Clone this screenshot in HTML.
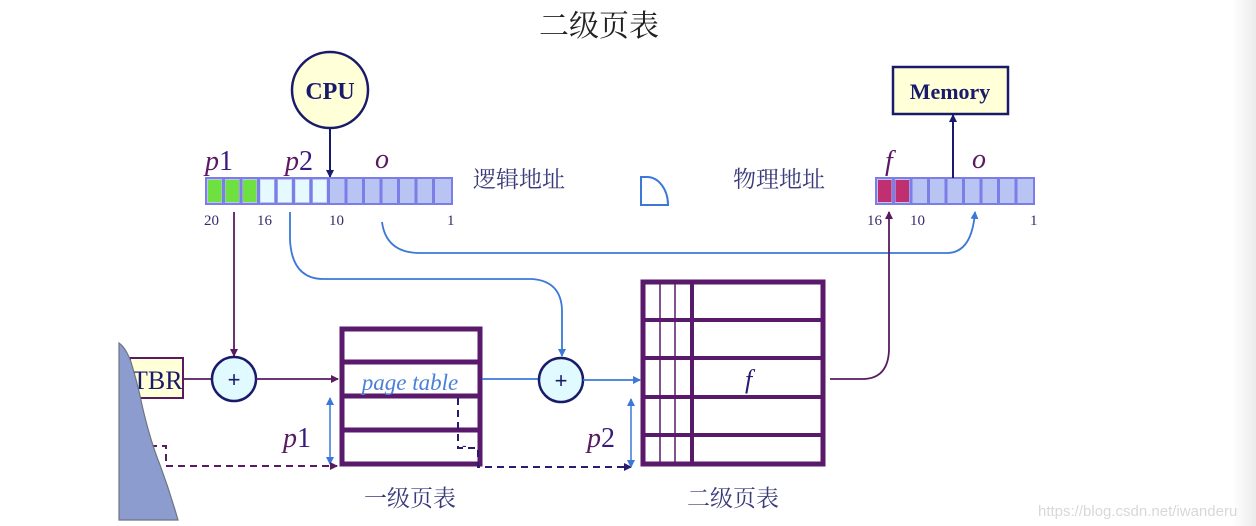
<!DOCTYPE html>
<html><head><meta charset="utf-8"><style>
html,body{margin:0;padding:0;background:#fff;}
svg{display:block;}
.cj{font-family:"Liberation Serif","Noto Serif CJK SC",serif;}
.it{font-family:"Liberation Serif",serif;font-style:italic;}
</style></head><body>
<svg width="1256" height="526" viewBox="0 0 1256 526" xmlns="http://www.w3.org/2000/svg">
<defs>
<marker id="ap" markerWidth="8" markerHeight="8" refX="7" refY="4" orient="auto" markerUnits="userSpaceOnUse"><path d="M0,0 L8,4 L0,8 z" fill="#5a1a60"/></marker>
<marker id="ab" markerWidth="8" markerHeight="8" refX="7" refY="4" orient="auto" markerUnits="userSpaceOnUse"><path d="M0,0 L8,4 L0,8 z" fill="#3b78d8"/></marker>
<marker id="an" markerWidth="8" markerHeight="8" refX="7" refY="4" orient="auto" markerUnits="userSpaceOnUse"><path d="M0,0 L8,4 L0,8 z" fill="#1a1a6b"/></marker>
<marker id="ad" markerWidth="8" markerHeight="8" refX="7" refY="4" orient="auto" markerUnits="userSpaceOnUse"><path d="M0,0 L8,4 L0,8 z" fill="#2a1a70"/></marker>
<marker id="abs" markerWidth="8" markerHeight="8" refX="7" refY="4" orient="auto-start-reverse" markerUnits="userSpaceOnUse"><path d="M0,0 L8,4 L0,8 z" fill="#3b78d8"/></marker>
<linearGradient id="edge" x1="0" x2="1" y1="0" y2="0"><stop offset="0" stop-color="#fff"/><stop offset="1" stop-color="#ececec"/></linearGradient>
</defs>
<rect x="1232" y="0" width="24" height="526" fill="url(#edge)"/>
<text x="599" y="36" font-size="30" text-anchor="middle" class="cj" fill="#222">二级页表</text>

<!-- CPU -->
<circle cx="330" cy="90" r="38" fill="#ffffd8" stroke="#1a1a6b" stroke-width="2.5"/>
<text x="330" y="99" font-size="24" font-weight="bold" text-anchor="middle" font-family="Liberation Serif,serif" fill="#1a1a6b">CPU</text>
<line x1="330" y1="128" x2="330" y2="177" stroke="#1a1a6b" stroke-width="2" marker-end="url(#an)"/>

<text x="205" y="170" font-size="28" class="it" fill="#5a1a60">p<tspan fill="#3a1a80" font-style="normal">1</tspan></text>
<text x="285" y="170" font-size="28" class="it" fill="#5a1a60">p<tspan fill="#3a1a80" font-style="normal">2</tspan></text>
<text x="375" y="168" font-size="28" class="it" fill="#5a1a60">o</text>

<rect x="206" y="178" width="246" height="26" fill="#b8c4f2" stroke="#7d7de8" stroke-width="2"/>
<rect x="208" y="180" width="13.5" height="22" fill="#6ee040"/>
<rect x="225.5" y="180" width="13.5" height="22" fill="#6ee040"/>
<rect x="243" y="180" width="13.5" height="22" fill="#6ee040"/>
<rect x="260.5" y="180" width="13.5" height="22" fill="#e4faff"/>
<rect x="278" y="180" width="13.5" height="22" fill="#e4faff"/>
<rect x="295.5" y="180" width="13.5" height="22" fill="#e4faff"/>
<rect x="313" y="180" width="13.5" height="22" fill="#e4faff"/>
<g stroke="#7d7de8" stroke-width="3">
<line x1="223.5" y1="179" x2="223.5" y2="203"/><line x1="241" y1="179" x2="241" y2="203"/><line x1="258.5" y1="179" x2="258.5" y2="203"/><line x1="276" y1="179" x2="276" y2="203"/><line x1="293.5" y1="179" x2="293.5" y2="203"/><line x1="311" y1="179" x2="311" y2="203"/><line x1="328.5" y1="179" x2="328.5" y2="203"/><line x1="346" y1="179" x2="346" y2="203"/><line x1="363.5" y1="179" x2="363.5" y2="203"/><line x1="381" y1="179" x2="381" y2="203"/><line x1="398.5" y1="179" x2="398.5" y2="203"/><line x1="416" y1="179" x2="416" y2="203"/><line x1="433.5" y1="179" x2="433.5" y2="203"/>
</g>
<g font-size="15" font-family="Liberation Serif,serif" fill="#3a2a6a">
<text x="204" y="225">20</text><text x="257" y="225">16</text><text x="329" y="225">10</text><text x="447" y="225">1</text>
<text x="867" y="225">16</text><text x="910" y="225">10</text><text x="1030" y="225">1</text>
</g>
<text x="473" y="187" font-size="23" class="cj" fill="#3a3a7a">逻辑地址</text>
<text x="733" y="187" font-size="23" class="cj" fill="#3a3a7a">物理地址</text>
<path d="M641,177 L647,177 A21,28 0 0 1 668,205 L641,205 Z" fill="none" stroke="#3b78d8" stroke-width="2"/>

<rect x="876" y="178" width="158" height="26" fill="#b8c4f2" stroke="#7d7de8" stroke-width="2"/>
<rect x="878" y="180" width="13.5" height="22" fill="#c03070"/>
<rect x="895.5" y="180" width="13.5" height="22" fill="#c03070"/>
<g stroke="#7d7de8" stroke-width="3">
<line x1="893.5" y1="179" x2="893.5" y2="203"/><line x1="911" y1="179" x2="911" y2="203"/><line x1="928.5" y1="179" x2="928.5" y2="203"/><line x1="946" y1="179" x2="946" y2="203"/><line x1="963.5" y1="179" x2="963.5" y2="203"/><line x1="981" y1="179" x2="981" y2="203"/><line x1="998.5" y1="179" x2="998.5" y2="203"/><line x1="1016" y1="179" x2="1016" y2="203"/>
</g>
<text x="885" y="170" font-size="28" class="it" fill="#5a1a60">f</text>
<text x="972" y="168" font-size="28" class="it" fill="#5a1a60">o</text>
<rect x="893" y="67" width="115" height="47" fill="#ffffd8" stroke="#1a1a6b" stroke-width="2.5"/>
<text x="950" y="99" font-size="22" font-weight="bold" text-anchor="middle" font-family="Liberation Serif,serif" fill="#1a1a6b">Memory</text>
<line x1="953" y1="178" x2="953" y2="115" stroke="#1a1a6b" stroke-width="2" marker-end="url(#an)"/>

<line x1="234" y1="212" x2="234" y2="356" stroke="#5a1a60" stroke-width="1.8" marker-end="url(#ap)"/>
<path d="M290,212 L290,240 Q292,278 322,279 L532,279 Q561,281 562,310 L562,356" fill="none" stroke="#3b78d8" stroke-width="1.8" marker-end="url(#ab)"/>
<path d="M382,222 Q386,252 418,253 L948,253 Q972,252 975,212" fill="none" stroke="#3b78d8" stroke-width="1.8" marker-end="url(#ab)"/>

<!-- TBR -->
<rect x="130" y="358" width="53" height="40" fill="#ffffd8" stroke="#5a1a60" stroke-width="2"/>
<text x="132" y="389" font-size="26" font-family="Liberation Serif,serif" fill="#1a1a6b">TBR</text>
<line x1="183" y1="379" x2="212" y2="379" stroke="#5a1a60" stroke-width="1.8"/>
<g stroke="#5a1a60" stroke-width="2" stroke-dasharray="7,5" fill="none">
<path d="M150,446 L166,446 L166,466 L336,466"/>
</g>
<!-- blob -->
<path d="M119,343 Q126,348 131,362 Q138,385 142,405 Q150,440 160,465 Q170,492 178,520 L119,520 Z" fill="#8c9ccf" stroke="#6d7580" stroke-width="1.2"/>

<circle cx="234" cy="379" r="22" fill="#e0faff" stroke="#1a1a6b" stroke-width="2.5"/>
<text x="234" y="387" font-size="22" text-anchor="middle" font-family="Liberation Sans,sans-serif" fill="#1a1a6b">+</text>
<line x1="256" y1="379" x2="338" y2="379" stroke="#5a1a60" stroke-width="1.8" marker-end="url(#ap)"/>

<g stroke="#5a1a6b" stroke-width="5" fill="none">
<rect x="342" y="329" width="138" height="135" fill="#fff"/>
<line x1="342" y1="362" x2="480" y2="362"/><line x1="342" y1="396" x2="480" y2="396"/><line x1="342" y1="430" x2="480" y2="430"/>
</g>
<text x="410" y="390" font-size="23" class="it" text-anchor="middle" fill="#4a80d8">page table</text>
<line x1="330" y1="398" x2="330" y2="464" stroke="#3b78d8" stroke-width="1.5" marker-start="url(#abs)" marker-end="url(#abs)"/>
<text x="283" y="447" font-size="28" class="it" fill="#5a1a60">p<tspan fill="#3a1a80" font-style="normal">1</tspan></text>

<line x1="330" y1="466" x2="337" y2="466" stroke="#5a1a60" stroke-width="2" marker-end="url(#ap)"/>
<g stroke="#2a1a70" stroke-width="2" stroke-dasharray="7,5" fill="none">
<path d="M458,398 L458,448 L478,448 L478,467 L630,467"/>
</g>
<line x1="624" y1="467" x2="631" y2="467" stroke="#2a1a70" stroke-width="2" marker-end="url(#ad)"/>
<text x="462" y="450" font-size="14" fill="#2a1a70" font-family="Liberation Sans,sans-serif">-</text>

<line x1="482" y1="379" x2="539" y2="379" stroke="#3b78d8" stroke-width="1.8"/>
<circle cx="561" cy="380" r="22" fill="#e0faff" stroke="#1a1a6b" stroke-width="2.5"/>
<text x="561" y="388" font-size="22" text-anchor="middle" font-family="Liberation Sans,sans-serif" fill="#1a1a6b">+</text>
<line x1="583" y1="380" x2="640" y2="380" stroke="#3b78d8" stroke-width="1.8" marker-end="url(#ab)"/>
<line x1="631" y1="399" x2="631" y2="467" stroke="#3b78d8" stroke-width="1.5" marker-start="url(#abs)" marker-end="url(#abs)"/>
<text x="587" y="447" font-size="28" class="it" fill="#5a1a60">p<tspan fill="#3a1a80" font-style="normal">2</tspan></text>

<g stroke="#5a1a6b" fill="none">
<rect x="643" y="282" width="180" height="182" fill="#fff" stroke-width="5"/>
<line x1="643" y1="320" x2="823" y2="320" stroke-width="4"/><line x1="643" y1="358" x2="823" y2="358" stroke-width="4"/><line x1="643" y1="397" x2="823" y2="397" stroke-width="4"/><line x1="643" y1="435" x2="823" y2="435" stroke-width="4"/>
<line x1="660" y1="282" x2="660" y2="464" stroke-width="1.5"/><line x1="675" y1="282" x2="675" y2="464" stroke-width="1.5"/><line x1="692" y1="282" x2="692" y2="464" stroke-width="4"/>
</g>
<text x="745" y="388" font-size="26" class="it" fill="#2a1a70">f</text>
<path d="M830,379 L864,379 Q888,378 889,350 L889,212" fill="none" stroke="#5a1a60" stroke-width="1.8" marker-end="url(#ap)"/>

<text x="410" y="506" font-size="23" class="cj" text-anchor="middle" fill="#3a3a7a">一级页表</text>
<text x="733" y="506" font-size="23" class="cj" text-anchor="middle" fill="#3a3a7a">二级页表</text>
<text x="1038" y="516" font-size="15" font-family="Liberation Sans,sans-serif" fill="#d8d8d8">https://blog.csdn.net/iwanderu</text>
</svg>
</body></html>
